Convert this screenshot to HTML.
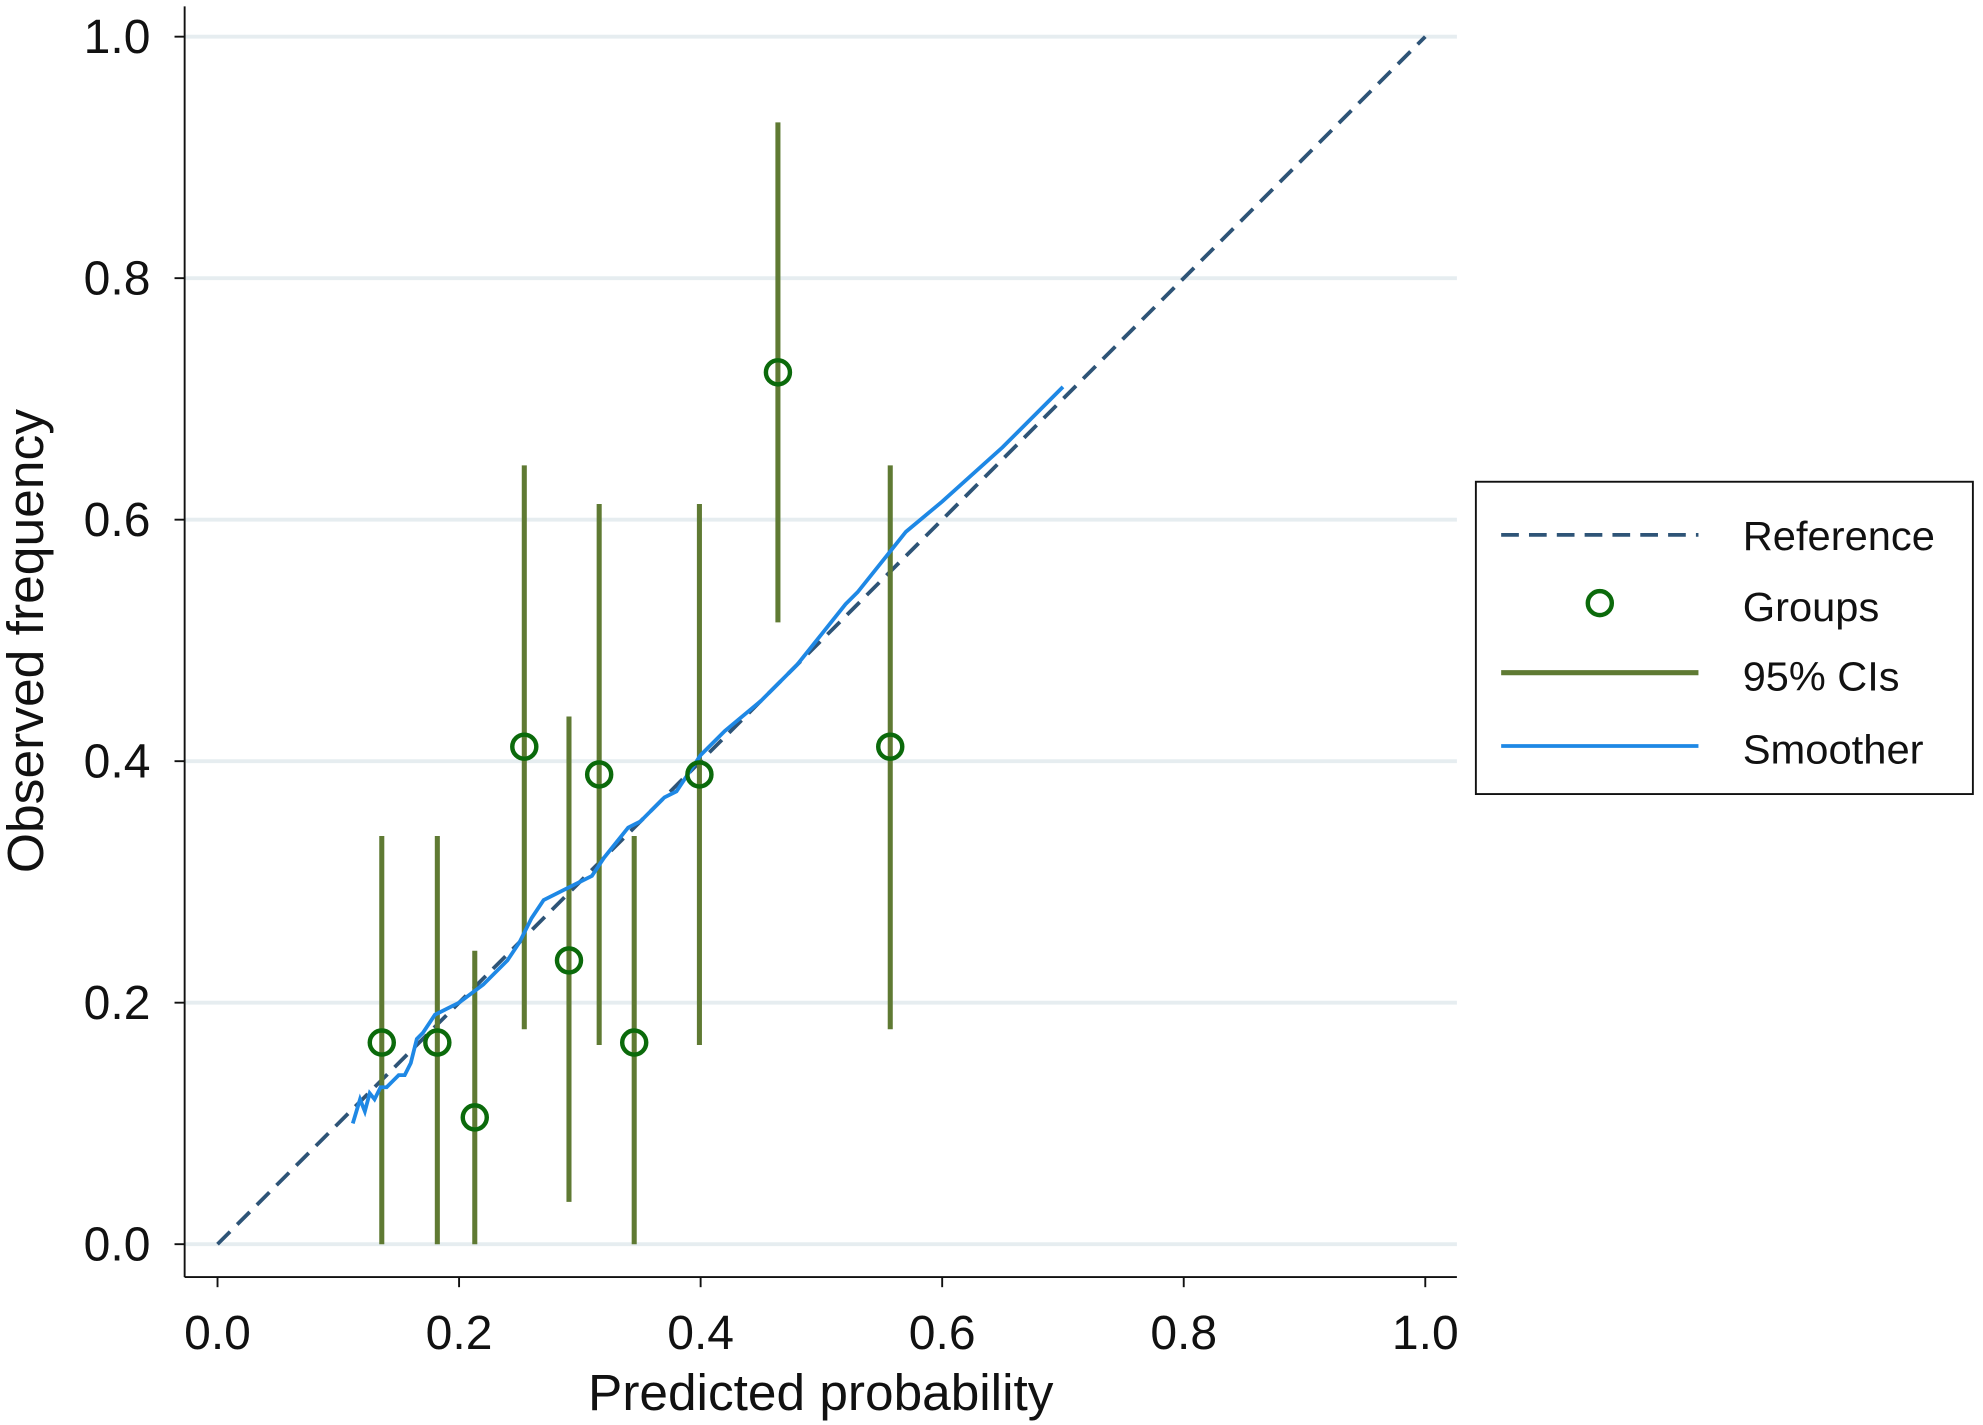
<!DOCTYPE html>
<html><head><meta charset="utf-8"><style>
html,body{margin:0;padding:0;background:#fff}
svg{display:block}
text{font-family:"Liberation Sans",sans-serif;fill:#111}
</style></head><body>
<svg id="chart" width="1983" height="1425" viewBox="0 0 1568 1127" preserveAspectRatio="none" xmlns="http://www.w3.org/2000/svg">
<g id="grid"></g>
<g id="axes"></g>
<g id="marks"></g>
<g id="legend"></g>
</svg>
<script>
const xTicks=[0,0.2,0.4,0.6,0.8,1.0];
const yTicks=[0,0.2,0.4,0.6,0.8,1.0];
const groupX=[0.136,0.182,0.213,0.254,0.291,0.316,0.345,0.399,0.464,0.557];
const groupY=[0.167,0.167,0.105,0.412,0.235,0.389,0.167,0.389,0.722,0.412];
const ciLow=[0,0,0,0.178,0.035,0.165,0,0.165,0.515,0.178];
const ciHigh=[0.338,0.338,0.243,0.645,0.437,0.613,0.338,0.613,0.929,0.645];
const smoothX=[0.112,0.118,0.122,0.126,0.13,0.135,0.14,0.145,0.15,0.155,0.16,0.165,0.17,0.18,0.19,0.2,0.22,0.24,0.25,0.26,0.27,0.29,0.3,0.31,0.32,0.34,0.35,0.37,0.38,0.4,0.42,0.45,0.48,0.5,0.52,0.53,0.55,0.57,0.6,0.65,0.7];
const smoothY=[0.10,0.12,0.11,0.125,0.12,0.13,0.13,0.135,0.14,0.14,0.15,0.17,0.175,0.19,0.195,0.2,0.215,0.235,0.25,0.27,0.285,0.295,0.30,0.305,0.32,0.345,0.35,0.37,0.375,0.405,0.425,0.45,0.48,0.505,0.53,0.54,0.565,0.59,0.615,0.66,0.71];
const refX=[0,1];const refY=[0,1];
const NS="http://www.w3.org/2000/svg";
const X=v=>172+v*955, Y=v=>984-v*955;
function mk(p,t,a){const e=document.createElementNS(NS,t);for(const k in a)e.setAttribute(k,a[k]);p.appendChild(e);return e;}
const grid=document.getElementById('grid'),axes=document.getElementById('axes'),marks=document.getElementById('marks'),leg=document.getElementById('legend');
yTicks.forEach(t=>{const l=mk(grid,'line',{x1:146,x2:1152,y1:Y(t),y2:Y(t),stroke:'#e6edf0','stroke-width':3});


const tk=mk(axes,'line',{x1:138,x2:146,y1:Y(t),y2:Y(t),stroke:'#111','stroke-width':1.5});


const tx=mk(axes,'text',{x:119,y:Y(t)+13,'text-anchor':'end','font-size':38});tx.textContent=t.toFixed(1);

});
xTicks.forEach(t=>{const tk=mk(axes,'line',{x1:X(t),x2:X(t),y1:1010,y2:1018,stroke:'#111','stroke-width':1.5});


const tx=mk(axes,'text',{x:X(t),y:1067,'text-anchor':'middle','font-size':38});tx.textContent=t.toFixed(1);

});
let a=mk(axes,'line',{x1:146,x2:146,y1:5,y2:1010,stroke:'#111','stroke-width':1.5});


a=mk(axes,'line',{x1:146,x2:1152,y1:1010,y2:1010,stroke:'#111','stroke-width':1.5});


let t=mk(axes,'text',{x:649,y:1115,'text-anchor':'middle','font-size':40,textLength:368,lengthAdjust:'spacingAndGlyphs'});t.textContent='Predicted probability';


t=mk(axes,'text',{x:0,y:0,'text-anchor':'middle','font-size':40,textLength:367,lengthAdjust:'spacingAndGlyphs',transform:'translate(34,507) rotate(-90)'});t.textContent='Observed frequency';


let r=mk(marks,'line',{x1:X(refX[0]),y1:Y(refY[0]),x2:X(refX[1]),y2:Y(refY[1]),stroke:'#2e5477','stroke-width':3,'stroke-dasharray':'14 8'});


groupX.forEach((gx,i)=>{const c=mk(marks,'line',{x1:X(gx),x2:X(gx),y1:Y(ciLow[i]),y2:Y(ciHigh[i]),stroke:'#5f7a33','stroke-width':4});

});
const pts=smoothX.map((x,i)=>X(x)+','+Y(smoothY[i])).join(' ');
const s=mk(marks,'polyline',{points:pts,fill:'none',stroke:'#1e88e5','stroke-width':3});


groupX.forEach((gx,i)=>{const c=mk(marks,'circle',{cx:X(gx),cy:Y(groupY[i]),r:9.5,fill:'none',stroke:'#0b6a0b','stroke-width':3.5});

});
const box=mk(leg,'rect',{x:1167,y:381,width:393,height:247,fill:'#fff',stroke:'#111','stroke-width':1.5});


const items=[['Reference',423,152],['Groups',479,108],['95% CIs',534,124],['Smoother',592,143]];
let e=mk(leg,'line',{x1:1187,x2:1343,y1:423,y2:423,stroke:'#2e5477','stroke-width':3,'stroke-dasharray':'14 8'});


e=mk(leg,'circle',{cx:1265,cy:477,r:9.5,fill:'none',stroke:'#0b6a0b','stroke-width':3.5});


e=mk(leg,'line',{x1:1187,x2:1343,y1:532,y2:532,stroke:'#5f7a33','stroke-width':4});


e=mk(leg,'line',{x1:1187,x2:1343,y1:590,y2:590,stroke:'#1e88e5','stroke-width':3});


items.forEach(([n,y,w])=>{const tx=mk(leg,'text',{x:1378,y:y+12,'font-size':32,textLength:w,lengthAdjust:'spacingAndGlyphs'});tx.textContent=n;

});
</script>
</body></html>
